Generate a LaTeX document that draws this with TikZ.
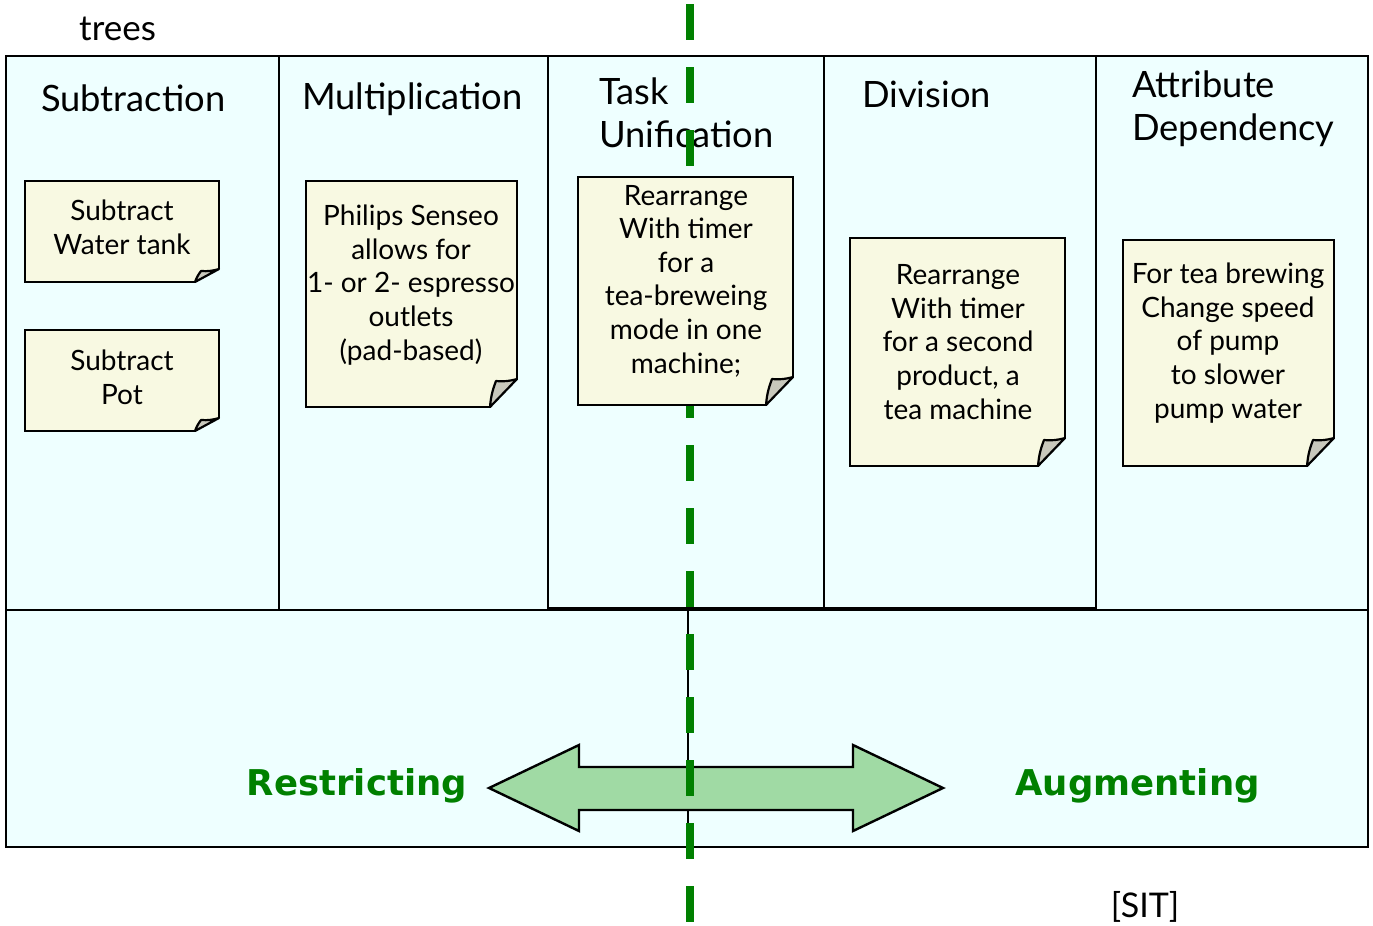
\documentclass[tikz,border=0pt]{standalone}
\usepackage{fontspec}
\setmainfont{Lato}
\newfontfamily\dejavu{DejaVu Sans}
\usetikzlibrary{calc}

\definecolor{colfill}{RGB}{238,255,255}
\definecolor{notefill}{RGB}{248,249,226}
\definecolor{flapfill}{RGB}{200,200,188}
\definecolor{arrowfill}{RGB}{160,218,164}
\definecolor{sitgreen}{RGB}{0,128,0}

\tikzset{
  column/.style={draw=black, line width=2.6pt, fill=colfill},
  heading/.style={font=\fontsize{36.3}{43.5}\selectfont, inner sep=0pt, anchor=base west},
  notetext/.style={font=\fontsize{28}{33.6}\selectfont, align=center, inner sep=0pt},
  noteline/.style={draw=black, line width=2.8pt, line join=miter},
  flap/.style={draw=black, line width=2.2pt, fill=flapfill, line join=round},
  axis/.style={draw=sitgreen, line width=8pt, dash pattern=on 36pt off 27pt},
  pole/.style={font=\dejavu\bfseries\fontsize{35.5}{42}\selectfont, text=sitgreen, inner sep=0pt},
}

% sticky note: x1, y1, x2, y2, fold x on bottom edge, fold y on right edge
\newcommand\papernote[6]{%
  \fill[notefill] (#1,#2) -- (#3,#2) -- (#3,#6) -- (#5,#4) -- (#1,#4) -- cycle;
  \draw[noteline] (#5,#4) -- (#1,#4) -- (#1,#2) -- (#3,#2) -- (#3,#6);
  \path[flap] (#5,#4) to[bend left=8] ($(#5,#6)+(6,2)$) to[bend right=10] (#3,#6) -- cycle;
}

\begin{document}
\begin{tikzpicture}[x=1pt, y=-1pt]
\useasboundingbox (0,0) rectangle (1373,926);

% operator columns
\draw[column] (6,56) rectangle (279,610);
\draw[column] (279,56) rectangle (548,610);
\draw[column] (548,56) rectangle (824,608);
\draw[column] (824,56) rectangle (1096,608);
\draw[column] (1096,56) rectangle (1368,612);

% lower band with the restricting / augmenting scale
\draw[column] (6,610) rectangle (1368,847);
\coordinate (midtop) at (688,610);
\coordinate (midbot) at (688,847);
\draw[black, line width=2.4pt] (midtop) -- (midbot);

\node[font=\fontsize{35}{42}\selectfont, inner sep=0pt, anchor=base west] (trees) at (79,40) {trees};

\node[heading] (h1) at (41,111) {Subtraction};
\node[heading] (h2) at (302,109) {Multiplication};
\node[heading] (h3a) at (599,104) {Task};
\node[heading] (h3b) at (599,147) {Unification};
\node[heading] (h4) at (862,107) {Division};
\node[heading] (h5a) at (1132,97) {Attribute};
\node[heading] (h5b) at (1132,140) {Dependency};

% double arrow
\coordinate (ltip) at (489,788);
\coordinate (rtip) at (943,788);
\filldraw[fill=arrowfill, draw=black, line width=2.4pt, line join=miter]
  (ltip) -- (579,745) -- (579,767) -- (853,767) -- (853,745) -- (rtip)
  -- (853,831) -- (853,810) -- (579,810) -- (579,831) -- cycle;

\node[pole] (restr) at (357,786) {Restricting};
\node[pole] (augm) at (1137.5,786) {Augmenting};

\node[font=\fontsize{34}{40}\selectfont, inner sep=0pt] (sit) at (1145,907) {[SIT]};

% dividing axis
\coordinate (dtop) at (690,4);
\coordinate (dbot) at (690,926);
\draw[axis] (dtop) -- (dbot);

% sticky notes
\papernote{25}{181}{219}{282}{195}{269}
\node[notetext] (n1) at (122,227) {Subtract\\Water tank};
\papernote{25}{330}{219}{431}{195}{418}
\node[notetext] (n2) at (122,377) {Subtract\\Pot};
\papernote{306}{181}{517}{407}{490}{379}
\node[notetext] (n3) at (411,285) {Philips Senseo\\allows for\\1- or 2- espresso\\outlets\\(pad-based)};
\papernote{578}{177}{793}{405}{766}{377}
\node[notetext] (n4) at (686,281) {Rearrange\\With timer\\for a\\tea-breweing\\mode in one\\machine;};
\papernote{850}{238}{1065}{466}{1038}{438}
\node[notetext] (n5) at (958,342) {Rearrange\\With timer\\for a second\\product, a\\tea machine};
\papernote{1123}{240}{1334}{466}{1307}{438}
\node[notetext] (n6) at (1228,343) {For tea brewing\\Change speed\\of pump\\to slower\\pump water};

\end{tikzpicture}
\end{document}
